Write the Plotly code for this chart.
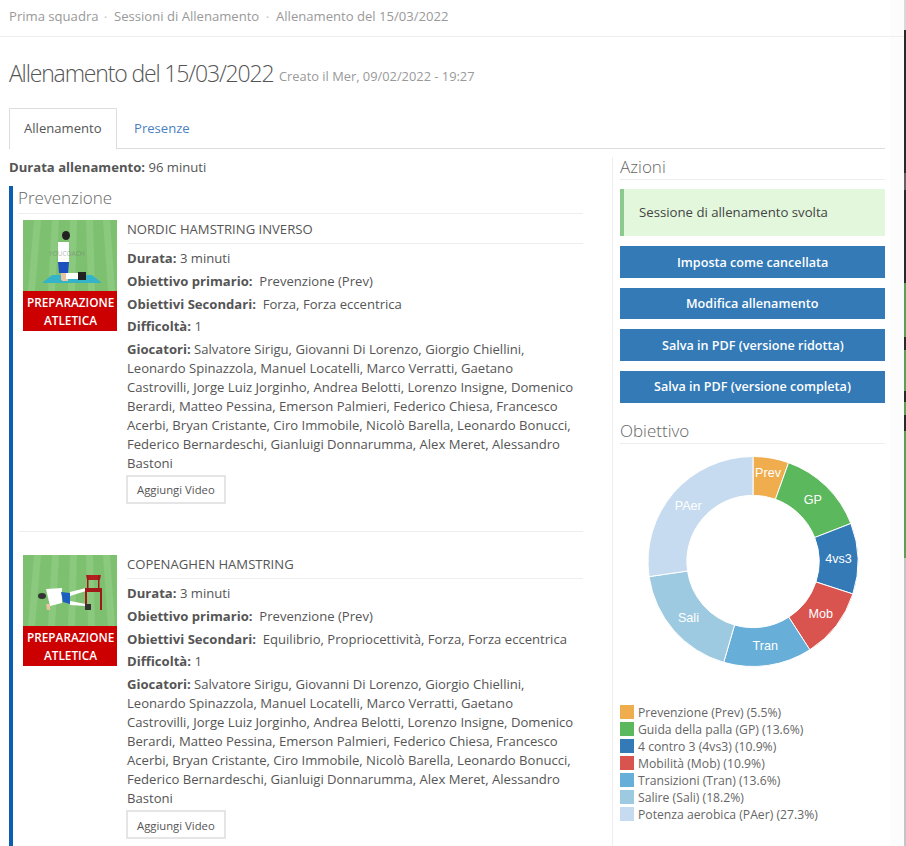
import plotly.graph_objects as go

W, H = 906, 846
BODY = 13.1

# donut data
short_labels = ["Prev", "GP", "4vs3", "Mob", "Tran", "Sali", "PAer"]
legend_names = ["Prevenzione (Prev)", "Guida della palla (GP)", "4 contro 3 (4vs3)", "Mobilità (Mob)",
                "Transizioni (Tran)", "Salire (Sali)", "Potenza aerobica (PAer)"]
percents = [5.5, 13.6, 10.9, 10.9, 13.6, 18.2, 27.3]
colors = ["#f0ad4e", "#5cb85c", "#337ab7", "#d9534f", "#67aed9", "#9ecae1", "#c6dbef"]

# page text
breadcrumb = ["Prima squadra", "Sessioni di Allenamento", "Allenamento del 15/03/2022"]
buttons = ["Imposta come cancellata", "Modifica allenamento",
           "Salva in PDF (versione ridotta)", "Salva in PDF (versione completa)"]
players = ["<b>Giocatori:</b> Salvatore Sirigu, Giovanni Di Lorenzo, Giorgio Chiellini,",
           "Leonardo Spinazzola, Manuel Locatelli, Marco Verratti, Gaetano",
           "Castrovilli, Jorge Luiz Jorginho, Andrea Belotti, Lorenzo Insigne, Domenico",
           "Berardi, Matteo Pessina, Emerson Palmieri, Federico Chiesa, Francesco",
           "Acerbi, Bryan Cristante, Ciro Immobile, Nicolò Barella, Leonardo Bonucci,",
           "Federico Bernardeschi, Gianluigi Donnarumma, Alex Meret, Alessandro",
           "Bastoni"]
exercises = [("NORDIC HAMSTRING INVERSO", "Forza, Forza eccentrica"),
             ("COPENAGHEN HAMSTRING", "Equilibrio, Propriocettività, Forza, Forza eccentrica")]

shapes = []
annotations = []


def px(x):
    return x / W


def py(y):
    return 1 - y / H


def rect(x0, y0, x1, y1, fill, line=None, lw=0):
    shapes.append(dict(type="rect", xref="paper", yref="paper", layer="below",
                       x0=px(x0), x1=px(x1), y0=py(y0), y1=py(y1), fillcolor=fill,
                       line=dict(color=line, width=lw) if line else dict(width=0)))


def ellipse(x0, y0, x1, y1, fill):
    shapes.append(dict(type="circle", xref="paper", yref="paper", layer="below",
                       x0=px(x0), x1=px(x1), y0=py(y0), y1=py(y1), fillcolor=fill, line=dict(width=0)))


def poly(points, fill):
    d = "M " + " L ".join(f"{px(x)} {py(y)}" for x, y in points) + " Z"
    shapes.append(dict(type="path", xref="paper", yref="paper", layer="below", path=d,
                       fillcolor=fill, line=dict(width=0)))


def text(x, y, s, size=BODY, color="#555555", anchor="left", weight=None, family="Open Sans"):
    font = dict(family=family, size=size, color=color)
    if weight:
        font["weight"] = weight
    annotations.append(dict(x=px(x), y=py(y), xref="paper", yref="paper", text=s, showarrow=False,
                            xanchor=anchor, yanchor="middle", font=font, borderpad=0, borderwidth=0))


def thumbnail(dy):
    rect(23, 220 + dy, 117, 291 + dy, "#7dc070")
    # pitch stripes
    for top, bottom in [(34, 28), (52, 48), (70, 68), (86, 88), (103, 108)]:
        poly([(top, 220 + dy), (top + 7, 220 + dy), (bottom + 7, 291 + dy), (bottom, 291 + dy)], "#8bc97f")
    rect(23, 291 + dy, 117, 331 + dy, "#cc0000")
    text(70.5, 302 + dy, "PREPARAZIONE", 11.8, "white", "center", 600)
    text(70.5, 320 + dy, "ATLETICA", 11.8, "white", "center", 600)


thumbnail(0)
thumbnail(335)

# kneeling player
poly([(42, 283), (102, 283), (92, 275), (52, 275)], "#35b3c9")
rect(62, 276, 68, 281, "#e8c4a0")
poly([(58, 242), (69, 242), (69, 262), (58, 262)], "#ffffff")
poly([(58, 262), (69, 262), (68, 273), (59, 273)], "#1d4fc0")
ellipse(62, 231, 70, 240, "#222222")
rect(61, 273, 68, 280, "#e8c4a0")
rect(66, 273, 79, 279, "#ffffff")
rect(78, 272, 86, 280, "#222222")
text(67, 253, "YOUCOACH", 6.5, "rgba(110,110,110,0.5)", "center")

# side plank on the chair
ellipse(38, 593, 46, 599, "#333333")
poly([(46, 589), (62, 588), (62, 603), (50, 606)], "#ffffff")
poly([(46, 604), (50, 604), (50, 610), (47, 610)], "#e8c4a0")
poly([(61, 592), (70, 593), (70, 604), (63, 602)], "#1d5fc0")
poly([(70, 592), (86, 588), (86, 591), (70, 596)], "#ffffff")
poly([(70, 601), (86, 604), (86, 606), (70, 605)], "#ffffff")
poly([(86, 575), (101, 575), (100, 580), (87, 580)], "#b02020")
rect(85, 588, 102, 592, "#a01818")
rect(85, 592, 87, 610, "#a01818")
rect(100, 592, 102, 610, "#a01818")
rect(87, 575, 88.5, 588, "#a01818")
rect(98, 575, 99.5, 588, "#a01818")
rect(85, 604, 91, 610, "#333333")

# window behind the page, right edge
rect(890, 0, 904, H, "#fcfcfc")
rect(904, 0, W, 30, "#d8d8d8")
rect(904, 30, W, 431, "#2a2a2a")
rect(904, 173, W, 190, "#6a6060")
for y0, y1 in [(283, 337), (350, 391), (402, 415), (431, 558)]:
    rect(904, y0, W, y1, "#5f9f55")
rect(904, 558, W, H, "#c4c4c4")

# header
rect(0, 36, 904, 37, "#eeeeee")
text(9, 16, breadcrumb[0], BODY, "#999999")
text(104, 16, "•", 8, "#cccccc")
text(114, 16, breadcrumb[1], BODY, "#999999")
text(266, 16, "•", 8, "#cccccc")
text(276, 16, breadcrumb[2], BODY, "#999999")
text(141, 73, "Allenamento del 15/03/2022", 23, "#555555", "center", 300)
text(279, 76, "Creato il Mer, 09/02/2022 - 19:27", 12.85, "#999999")

# tabs
rect(9, 148, 885, 149, "#dddddd")
rect(9.5, 108.5, 116.5, 149, "#ffffff", "#dddddd", 1)
rect(10, 147, 116, 150, "#ffffff")
text(24, 128, "Allenamento")
text(134, 128, "Presenze", BODY, "#4a7fbf")
text(9, 167, "<b>Durata allenamento:</b> 96 minuti")

# left column
rect(9, 186, 13, H, "#0b5eb0")
text(18, 197.5, "Prevenzione", 17, "#666666", weight=300)
rect(18, 213, 583, 214, "#eeeeee")
rect(18, 531, 583, 532, "#eeeeee")

for dy, (title, secondary) in zip([0, 335], exercises):
    text(127, 229 + dy, title)
    rect(127, 243 + dy, 583, 244 + dy, "#eeeeee")
    text(127, 258 + dy, "<b>Durata:</b> 3 minuti")
    text(127, 281 + dy, "<b>Obiettivo primario:</b>  Prevenzione (Prev)")
    text(127, 304 + dy, f"<b>Obiettivi Secondari:</b>  {secondary}")
    text(127, 326 + dy, "<b>Difficoltà:</b> 1")
    for i, line in enumerate(players):
        text(127, 349 + dy + i * 19, line)
    rect(127, 476 + dy, 225, 503 + dy, "#ffffff", "#dddddd", 1.5)
    text(176, 490 + dy, "Aggiungi Video", 11.3, "#555555", "center")

# right column
rect(612, 157, 613, H, "#eeeeee")
text(620, 166.5, "Azioni", 17, "#666666", weight=300)
rect(620, 179, 885, 180, "#eeeeee")
rect(620, 189, 885, 236, "#e3f7dc")
rect(620, 189, 624, 236, "#8cc98c")
text(639, 212, "Sessione di allenamento svolta", 13.2, "#444444")
for (y0, y1), label in zip([(246, 278), (288, 319), (329, 361), (371, 403)], buttons):
    rect(620, y0, 885, y1, "#337ab7")
    text(752.5, (y0 + y1) / 2, label, 12.6, "white", "center", 600)
text(620, 430.5, "Obiettivo", 17, "#666666", weight=300)
rect(620, 443, 885, 444, "#eeeeee")

# legend drawn by hand, plotly's own has a minimum row height that is too tall here
for i, (name, pct, col) in enumerate(zip(legend_names, percents, colors)):
    rect(620, 705 + i * 17, 634, 719 + i * 17, col)
    text(638, 712 + i * 17, f"{name} ({pct}%)", 12.2, "#666666")

fig = go.Figure(go.Pie(
    labels=short_labels,
    values=percents,
    text=short_labels,
    textinfo="text",
    textposition="inside",
    insidetextorientation="horizontal",
    insidetextfont=dict(family="Liberation Sans", size=12.6, color="white"),
    marker=dict(colors=colors, line=dict(color="white", width=1)),
    hole=0.63,
    sort=False,
    direction="clockwise",
    rotation=0,
    showlegend=False,
    domain=dict(x=[px(648), px(858)], y=[py(666.5), py(456.5)]),
))
fig.update_layout(width=W, height=H, margin=dict(l=0, r=0, t=0, b=0), paper_bgcolor="white",
                  plot_bgcolor="white", shapes=shapes, annotations=annotations)

# the page title is set tighter than plotly's annotations can do on their own
page_js = """
document.body.style.margin = '0';
document.body.style.overflow = 'hidden';
document.querySelectorAll('.annotation-text').forEach(function (t) {
  if (t.textContent.indexOf('Allenamento del') === 0 && t.style.fontSize === '23px') {
    t.style.letterSpacing = '-1.15px';
  }
});
"""
fig.write_html("out.html", config=dict(displayModeBar=False), post_script=page_js)
